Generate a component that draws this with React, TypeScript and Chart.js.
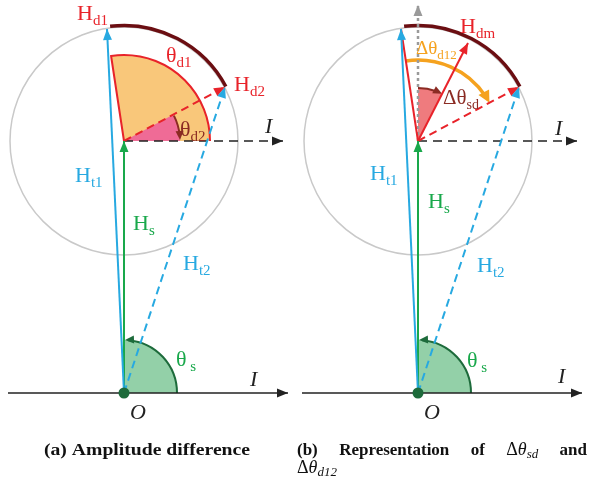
import { useEffect, useRef } from "react";
import { Chart, registerables } from "chart.js";

Chart.register(...registerables);

// x position of point O in each panel (a, b)
const PANEL_OFFSETS = [0, 294];
// H_s: from O to the centre of the circle
const HS = [0, 252];
const CIRCLE_R = 114;
// H_d vectors, measured from the circle centre
const HD1 = [-17, 112];
const HD2 = [101, 54];
const HDM = [50, 98];
// axis extents relative to O
const BASE_AXIS = [-116, 164];
const I_AXIS_END = 159;
const REF_AXIS_TOP = 388;
// radii of the angle markers
const R_THETA_D1 = 86;
const R_THETA_D2 = 56;
const R_THETA_S = 53;
const R_DELTA_SD = 53;
const R_DELTA_D12 = 81;
const R_H_ARC = 115.5;

const RED = "#e8232a";
const BLUE = "#27a9e1";
const GREEN = "#19a84b";
const DARK_GREEN = "#1d6b3b";
const MAROON = "#6b0e12";
const DARK_RED = "#8b2b23";
const ORANGE = "#f5a21f";
const BLACK = "#222222";
const GREY = "#9a9a9a";

const SERIF = "'Liberation Serif', 'DejaVu Serif', serif";

type Pt = [number, number];
const add = (a: number[], b: number[]): Pt => [a[0] + b[0], a[1] + b[1]];
const ang = (v: number[]) => Math.atan2(v[1], v[0]);

function segment(points: Pt[], color: string, width: number, dash: number[] = [], head = false) {
  return {
    data: points.map(([x, y]) => ({ x, y })),
    showLine: true,
    borderColor: color,
    backgroundColor: color,
    borderWidth: width,
    borderDash: dash,
    pointRadius: 0,
    pointHoverRadius: 0,
    fill: false,
    arrowHead: head,
  };
}

function buildDatasets() {
  const list: any[] = []; // bottom first
  PANEL_OFFSETS.forEach((ox, p) => {
    const O: Pt = [ox, 0];
    const C = add(O, HS);
    const T1 = add(C, HD1);
    const T2 = add(C, HD2);
    const TM = add(C, HDM);
    list.push(segment([[ox + BASE_AXIS[0], 0], [ox + BASE_AXIS[1], 0]], BLACK, 1.5, [], true));
    list.push(segment([C, [ox + I_AXIS_END, C[1]]], BLACK, 1.5, [9, 6], true));
    if (p === 1) {
      list.push(segment([C, [ox, REF_AXIS_TOP]], GREY, 2.5, [3, 3], true));
      list.push(segment([C, T1], RED, 2));
      list.push(segment([C, TM], RED, 2, [], true));
    }
    list.push(segment([C, T2], RED, 2, [8, 5], true));
    list.push(segment([O, T2], BLUE, 2, [8, 5], true));
    list.push(segment([O, C], GREEN, 2, [], true));
    list.push(segment([O, T1], BLUE, 2, [], true));
  });
  return list.reverse();
}

type Part = { t: string; size: number; dy?: number; italic?: boolean; bold?: boolean };
type Label = { x: number; y: number; color: string; parts: Part[] };

const lbl = (x: number, y: number, color: string, main: string, sub = "", italic = false, size = 22): Label => ({
  x,
  y,
  color,
  parts: sub
    ? [{ t: main, size, italic }, { t: sub, size: Math.round(size * 0.68), dy: 5 }]
    : [{ t: main, size, italic }],
});

// label anchors (left, baseline) relative to each panel's O
const LABELS_A: Label[] = [
  lbl(-47, 373, RED, "H", "d1"),
  lbl(42, 331, RED, "θ", "d1"),
  lbl(110, 302, RED, "H", "d2"),
  lbl(56, 257, DARK_RED, "θ", "d2"),
  lbl(141, 260, BLACK, "I", "", true),
  lbl(-49, 211, BLUE, "H", "t1"),
  lbl(9, 163, GREEN, "H", "s"),
  lbl(59, 123, BLUE, "H", "t2"),
  lbl(52, 27, GREEN, "θ", " s"),
  lbl(126, 7, BLACK, "I", "", true),
  lbl(6, -26, BLACK, "O", "", true),
];
const LABELS_B: Label[] = [
  lbl(42, 360, RED, "H", "dm"),
  lbl(-2, 339, ORANGE, "Δθ", "d12", false, 19),
  lbl(25, 289, DARK_RED, "Δθ", "sd", false, 21),
  lbl(137, 258, BLACK, "I", "", true),
  lbl(-48, 213, BLUE, "H", "t1"),
  lbl(10, 185, GREEN, "H", "s"),
  lbl(59, 121, BLUE, "H", "t2"),
  lbl(49, 26, GREEN, "θ", " s"),
  lbl(140, 10, BLACK, "I", "", true),
  lbl(6, -26, BLACK, "O", "", true),
];

const CAPTION_A = "(a) Amplitude difference";
const CAPTION_B_WORDS = ["(b)", "Representation", "of", "Δθsd", "and"];

function fontOf(p: Part) {
  return `${p.italic ? "italic " : ""}${p.bold ? "bold " : ""}${p.size}px ${SERIF}`;
}

function drawParts(ctx: CanvasRenderingContext2D, x: number, y: number, color: string, parts: Part[]) {
  ctx.fillStyle = color;
  ctx.textBaseline = "alphabetic";
  ctx.textAlign = "left";
  let cx = x;
  for (const p of parts) {
    ctx.font = fontOf(p);
    ctx.fillText(p.t, cx, y + (p.dy || 0));
    cx += ctx.measureText(p.t).width;
  }
  return cx - x;
}

function partsWidth(ctx: CanvasRenderingContext2D, parts: Part[]) {
  let w = 0;
  for (const p of parts) {
    ctx.font = fontOf(p);
    w += ctx.measureText(p.t).width;
  }
  return w;
}

function head(ctx: CanvasRenderingContext2D, tx: number, ty: number, dx: number, dy: number, color: string, len = 11, half = 4.5) {
  const n = Math.hypot(dx, dy) || 1;
  const ux = dx / n;
  const uy = dy / n;
  ctx.save();
  ctx.setLineDash([]);
  ctx.fillStyle = color;
  ctx.beginPath();
  ctx.moveTo(tx, ty);
  ctx.lineTo(tx - ux * len - uy * half, ty - uy * len + ux * half);
  ctx.lineTo(tx - ux * len + uy * half, ty - uy * len - ux * half);
  ctx.closePath();
  ctx.fill();
  ctx.restore();
}

const diagramPlugin = {
  id: "vectorDiagram",
  beforeDatasetsDraw(chart: any) {
    const { ctx } = chart;
    const xs = chart.scales.x;
    const ys = chart.scales.y;
    const P = (p: number[]): Pt => [xs.getPixelForValue(p[0]), ys.getPixelForValue(p[1])];
    const L = (r: number) => xs.getPixelForValue(r) - xs.getPixelForValue(0);
    const a1 = ang(HD1);
    const a2 = ang(HD2);
    const am = ang(HDM);

    ctx.save();
    PANEL_OFFSETS.forEach((ox, p) => {
      const [ocx, ocy] = P([ox, 0]);
      const [cx, cy] = P(add([ox, 0], HS));

      // reference circle
      ctx.beginPath();
      ctx.strokeStyle = "#c9c9c9";
      ctx.lineWidth = 1.5;
      ctx.arc(cx, cy, L(CIRCLE_R), 0, Math.PI * 2);
      ctx.stroke();

      // theta_s sector at O
      const rs = L(R_THETA_S);
      ctx.beginPath();
      ctx.moveTo(ocx, ocy);
      ctx.arc(ocx, ocy, rs, 0, -Math.PI / 2, true);
      ctx.closePath();
      ctx.fillStyle = "#93d0a8";
      ctx.fill();
      ctx.beginPath();
      ctx.arc(ocx, ocy, rs, 0, -Math.PI / 2 + 0.08, true);
      ctx.strokeStyle = DARK_GREEN;
      ctx.lineWidth = 2;
      ctx.stroke();
      head(ctx, ocx + 1, ocy - rs, -1, 0.05, DARK_GREEN, 9, 4);

      if (p === 0) {
        // theta_d1 sector
        const r1 = L(R_THETA_D1);
        ctx.beginPath();
        ctx.moveTo(cx, cy);
        ctx.arc(cx, cy, r1, 0, -a1, true);
        ctx.closePath();
        ctx.fillStyle = "#f9c77a";
        ctx.fill();
        ctx.beginPath();
        ctx.arc(cx, cy, r1, 0, -a1, true);
        ctx.lineTo(cx, cy);
        ctx.strokeStyle = RED;
        ctx.lineWidth = 2;
        ctx.stroke();
        // theta_d2 sector
        const r2 = L(R_THETA_D2);
        ctx.beginPath();
        ctx.moveTo(cx, cy);
        ctx.arc(cx, cy, r2, 0, -a2, true);
        ctx.closePath();
        ctx.fillStyle = "#ef6b96";
        ctx.fill();
        ctx.beginPath();
        ctx.arc(cx, cy, r2, -a2 + 0.02, -0.09, false);
        ctx.strokeStyle = DARK_RED;
        ctx.lineWidth = 2;
        ctx.stroke();
        head(ctx, cx + r2, cy - 1, 0.05, 1, DARK_RED, 9, 4);
      } else {
        // delta theta_sd sector
        const rd = L(R_DELTA_SD);
        ctx.beginPath();
        ctx.moveTo(cx, cy);
        ctx.arc(cx, cy, rd, -Math.PI / 2, -am, false);
        ctx.closePath();
        ctx.fillStyle = "#ef7b7e";
        ctx.fill();
        ctx.beginPath();
        ctx.arc(cx, cy, rd, -Math.PI / 2, -am - 0.12, false);
        ctx.strokeStyle = DARK_RED;
        ctx.lineWidth = 2;
        ctx.stroke();
        head(ctx, cx + rd * Math.cos(am), cy - rd * Math.sin(am), Math.sin(am), Math.cos(am), DARK_RED, 9, 4);
        // delta theta_d12 sweep
        const ro = L(R_DELTA_D12);
        ctx.beginPath();
        ctx.arc(cx, cy, ro, -a1, -a2 - 0.1, false);
        ctx.strokeStyle = ORANGE;
        ctx.lineWidth = 3.5;
        ctx.stroke();
        head(ctx, cx + ro * Math.cos(a2), cy - ro * Math.sin(a2), Math.sin(a2), Math.cos(a2), ORANGE, 12, 6);
      }

      // arc between H_d1 and H_d2
      ctx.beginPath();
      ctx.arc(cx, cy, L(R_H_ARC), -a1 + 0.03, -a2, false);
      ctx.strokeStyle = MAROON;
      ctx.lineWidth = 3.5;
      ctx.stroke();
    });
    ctx.restore();
  },
  afterDatasetsDraw(chart: any) {
    const { ctx } = chart;
    const xs = chart.scales.x;
    const ys = chart.scales.y;
    const P = (p: number[]): Pt => [xs.getPixelForValue(p[0]), ys.getPixelForValue(p[1])];

    ctx.save();
    // arrow heads at the end of every vector
    const sets = chart.data.datasets as any[];
    for (let i = sets.length - 1; i >= 0; i--) {
      const ds = sets[i];
      if (!ds.arrowHead) continue;
      const n = ds.data.length;
      const [x0, y0] = P([ds.data[n - 2].x, ds.data[n - 2].y]);
      const [x1, y1] = P([ds.data[n - 1].x, ds.data[n - 1].y]);
      head(ctx, x1, y1, x1 - x0, y1 - y0, ds.borderColor);
    }

    PANEL_OFFSETS.forEach((ox, p) => {
      const [ocx, ocy] = P([ox, 0]);
      ctx.beginPath();
      ctx.fillStyle = DARK_GREEN;
      ctx.arc(ocx, ocy, 5.5, 0, Math.PI * 2);
      ctx.fill();
      for (const l of p === 0 ? LABELS_A : LABELS_B) {
        const [lx, ly] = P([ox + l.x, l.y]);
        drawParts(ctx, lx, ly, l.color, l.parts);
      }
    });

    // captions
    const capSize = 17;
    const [ax, ay] = P([-80, -62]);
    const [axEnd] = P([126, -62]);
    const capA: Part[] = [{ t: CAPTION_A, size: capSize, bold: true }];
    const stretch = (axEnd - ax) / partsWidth(ctx, capA);
    ctx.save();
    ctx.translate(ax, ay);
    ctx.scale(stretch, 1);
    drawParts(ctx, 0, 0, "#111", capA);
    ctx.restore();

    const math = (sub: string): Part[] => [
      { t: "Δ", size: 18 },
      { t: "θ", size: 18, italic: true },
      { t: sub, size: 13, italic: true, dy: 3 },
    ];
    const wordParts: Part[][] = CAPTION_B_WORDS.map((w) =>
      w.startsWith("Δθ") ? math(w.slice(2)) : [{ t: w, size: capSize, bold: true }]
    );
    const [bx0, by] = P([173, -62]);
    const [bx1] = P([463, -62]);
    const widths = wordParts.map((wp) => partsWidth(ctx, wp));
    const gap = (bx1 - bx0 - widths.reduce((s, w) => s + w, 0)) / (wordParts.length - 1);
    let cx = bx0;
    wordParts.forEach((wp, i) => {
      drawParts(ctx, cx, by, "#111", wp);
      cx += widths[i] + gap;
    });
    const [lx2, ly2] = P([173, -80]);
    drawParts(ctx, lx2, ly2, "#111", math("d12"));
    ctx.restore();
  },
};

export default function App() {
  const ref = useRef<HTMLCanvasElement | null>(null);
  useEffect(() => {
    if (!ref.current) return;
    const chart = new Chart(ref.current, {
      type: "scatter",
      data: { datasets: buildDatasets() },
      options: {
        animation: false,
        responsive: true,
        maintainAspectRatio: false,
        layout: { padding: 0 },
        events: [],
        plugins: { legend: { display: false }, tooltip: { enabled: false } },
        scales: {
          x: { type: "linear", min: -124, max: 465, display: false },
          y: { type: "linear", min: -88, max: 393, display: false },
        },
      },
      plugins: [diagramPlugin],
    } as any);
    return () => chart.destroy();
  }, []);
  return (
    <div style={{ position: "absolute", left: 0, top: 0, width: 589, height: 481, background: "#fff" }}>
      <canvas ref={ref} />
    </div>
  );
}
